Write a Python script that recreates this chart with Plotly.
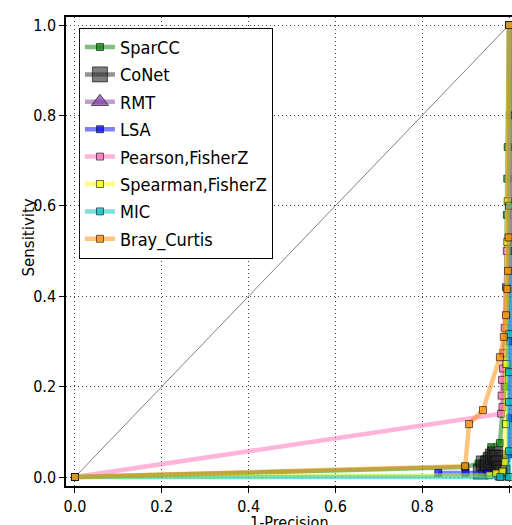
import plotly.graph_objects as go

# ---- data ----
diag_x = [0.0, 1.0]
diag_y = [0.0, 1.0]

sparcc_x = [0.0, 0.899, 0.93, 0.959, 0.979, 0.99, 0.993, 0.995, 0.996, 0.997, 1.0]
sparcc_y = [0.0, 0.022, 0.03, 0.066, 0.075, 0.2, 0.42, 0.58, 0.66, 0.73, 1.0]

conet_x = [0.935, 0.942, 0.948, 0.952, 0.958, 0.963, 0.968, 0.972, 0.976, 0.98, 0.985]
conet_y = [0.012, 0.03, 0.02, 0.03, 0.038, 0.045, 0.05, 0.042, 0.03, 0.018, 0.01]

rmt_x = [None]
rmt_y = [None]

lsa_x = [0.837, 0.9, 0.95, 0.985, 1.002, 1.002, 1.002, 1.002, 1.002, 1.002]
lsa_y = [0.009, 0.009, 0.009, 0.009, 0.05, 0.13, 0.3, 0.5, 0.8, 1.0]

pearson_x = [0.0, 0.982, 0.985, 0.983, 0.984, 0.986, 0.987, 0.99, 0.995, 1.0]
pearson_y = [0.0, 0.14, 0.155, 0.18, 0.215, 0.24, 0.274, 0.33, 0.5, 1.0]

spearman_x = [0.0, 0.955, 0.97, 0.985, 0.991, 0.993, 0.994, 0.996, 0.997, 1.0]
spearman_y = [0.0, 0.004, 0.008, 0.012, 0.033, 0.117, 0.25, 0.52, 0.61, 1.0]

mic_x = [0.0, 0.98, 1.0, 1.0, 1.0, 1.0, 1.0, 1.0, 1.0]
mic_y = [0.0, 0.0, 0.0, 0.057, 0.166, 0.232, 0.316, 0.6, 1.0]

bray_x = [0.0, 0.899, 0.908, 0.94, 0.979, 0.988, 0.993, 0.996, 0.998, 0.999, 1.0]
bray_y = [0.0, 0.024, 0.117, 0.148, 0.265, 0.31, 0.358, 0.416, 0.456, 0.53, 1.0]

x_ticks = [0.0, 0.2, 0.4, 0.6, 0.8, 1.0]
y_ticks = [0.0, 0.2, 0.4, 0.6, 0.8, 1.0]

x_title = "1-Precision"
y_title = "Sensitivity"

NARROW = "Liberation Sans Narrow, DejaVu Sans Condensed, Liberation Sans, sans-serif"

series = [
    ("SparCC", sparcc_x, sparcc_y, (0, 128, 0), "square", 7, 0.7),
    ("CoNet", conet_x, conet_y, (40, 40, 40), "square", 15, 0.6),
    ("RMT", rmt_x, rmt_y, (128, 60, 160), "triangle-up", 15, 0.7),
    ("LSA", lsa_x, lsa_y, (0, 0, 255), "square", 7, 0.7),
    ("Pearson,FisherZ", pearson_x, pearson_y, (255, 105, 180), "square", 7, 0.7),
    ("Spearman,FisherZ", spearman_x, spearman_y, (255, 255, 0), "square", 7, 0.7),
    ("MIC", mic_x, mic_y, (0, 191, 191), "square", 7, 0.7),
    ("Bray_Curtis", bray_x, bray_y, (255, 140, 0), "square", 7, 0.7),
]

fig = go.Figure()

fig.add_trace(go.Scatter(
    x=diag_x, y=diag_y, mode="lines", showlegend=False,
    line=dict(color="#808080", width=1), hoverinfo="skip"))

for i, (name, xs, ys, c, sym, sz, ma) in enumerate(series):
    r, g, b = c
    fig.add_trace(go.Scatter(
        x=xs, y=ys, name=name, mode="lines+markers",
        legendgroup=f"g{i}",
        line=dict(color=f"rgba({r},{g},{b},0.5)", width=4.5),
        marker=dict(symbol=sym, size=sz,
                    color=f"rgba({r},{g},{b},{ma})",
                    line=dict(color="rgba(0,0,0,0.6)", width=1)),
    ))

axis_common = dict(
    showgrid=True, gridcolor="#444444", griddash="1px,3px", gridwidth=1,
    zeroline=False, showline=True, linecolor="black", linewidth=1.5,
    ticks="outside", ticklen=5, tickcolor="black", tickwidth=1,
    tickfont=dict(family=NARROW, size=16, color="black"),
    automargin=False,
)

fig.update_layout(
    width=512, height=525,
    margin=dict(l=66, r=0, t=17, b=39),
    paper_bgcolor="white", plot_bgcolor="white",
    font=dict(family=NARROW, color="black"),
    xaxis=dict(range=[-0.0207, 1.0069], tickvals=x_ticks,
               ticktext=[f"{v:.1f}" for v in x_ticks], mirror=True,
               **axis_common),
    yaxis=dict(range=[-0.0199, 1.0177], tickvals=y_ticks,
               ticktext=[f"{v:.1f}" for v in y_ticks], mirror=False,
               **axis_common),
    legend=dict(x=0.029, y=0.977, xanchor="left", yanchor="top",
                bgcolor="white", bordercolor="black", borderwidth=1,
                font=dict(family=NARROW, size=18, color="black"),
                tracegroupgap=1, itemsizing="trace"),
    showlegend=True,
    annotations=[
        dict(text=x_title, xref="paper", yref="paper", x=0.5, y=-0.077,
             xanchor="center", yanchor="middle", showarrow=False,
             font=dict(family=NARROW, size=16, color="black")),
        dict(text=y_title, xref="paper", yref="paper", x=-0.083, y=0.53,
             xanchor="center", yanchor="middle", showarrow=False, textangle=-90,
             font=dict(family="DejaVu Sans, sans-serif", size=15, color="black")),
    ],
)

fig.write_html("out.html",
               config={"displayModeBar": False},
               post_script="document.body.style.margin='0';document.body.style.overflow='hidden';")
